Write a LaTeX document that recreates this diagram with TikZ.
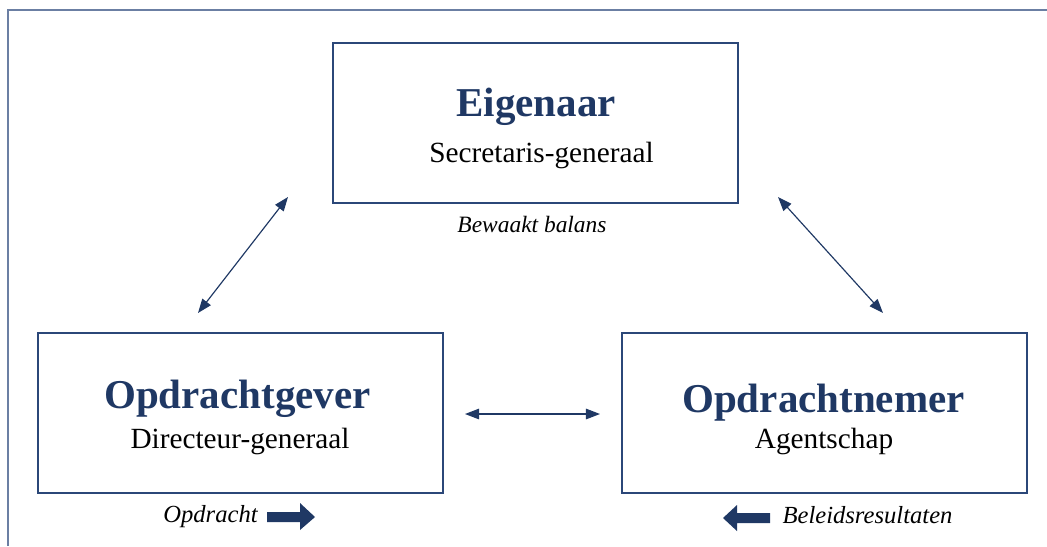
\documentclass[tikz,border=0pt]{standalone}
\usepackage{fontspec}
\setmainfont{Liberation Serif}
\usetikzlibrary{arrows.meta}
\definecolor{navy}{HTML}{1F3864}
\definecolor{boxblue}{HTML}{2B4778}
\definecolor{framegray}{HTML}{6B7FA3}
\tikzset{
  box/.style={draw=boxblue, line width=1.9pt, minimum width=12.15cm, minimum height=4.8cm, inner sep=0pt},
  title/.style={anchor=base, text=navy, font=\fontsize{35}{40}\selectfont\bfseries, inner sep=0pt},
  sub/.style={anchor=base, text=black, font=\fontsize{25}{30}\selectfont, inner sep=0pt},
  note/.style={anchor=base, text=black, font=\fontsize{21}{25}\selectfont\itshape, inner sep=0pt},
  link/.style={draw=navy, line width=1pt, {Triangle[length=12pt,width=9pt]}-{Triangle[length=12pt,width=9pt]}},
  blockarrow/.style={fill=navy, draw=none}
}
\begin{document}
\begin{tikzpicture}[x=0.03cm, y=-0.03cm]
\useasboundingbox (0,0) rectangle (1047,546);
% frame
\draw[framegray, line width=1.3pt] (8,546) -- (8,10) -- (1047,10);
% boxes
\node[box] (eig) at (535.5,123) {};
\node[box] (gev) at (240.5,413) {};
\node[box] (nem) at (824.5,413) {};
% texts
\node[title] (eigT) at (536,116) {Eigenaar};
\node[sub] (eigS) at (541.5,162) {Secretaris-generaal};
\node[note, font=\fontsize{20}{24}\selectfont\itshape] (bew) at (532,232) {Bewaakt balans};
\node[title] (gevT) at (237.5,408) {Opdrachtgever};
\node[sub] (gevS) at (240,448) {Directeur-generaal};
\node[title] (nemT) at (823.5,412) {Opdrachtnemer};
\node[sub] (nemS) at (824,448) {Agentschap};
\node[note] (opd) at (210.5,522) {Opdracht};
\node[note] (bel) at (867.5,523) {Beleidsresultaten};
% connectors
\coordinate (l1) at (288,197);
\coordinate (l2) at (198,313);
\coordinate (r1) at (778,197);
\coordinate (r2) at (883,313);
\coordinate (h1) at (465,414);
\coordinate (h2) at (600,414);
\draw[link] (l1) -- (l2);
\draw[link] (r1) -- (r2);
\draw[link] (h1) -- (h2);
% block arrows
\fill[blockarrow] (267,512) -- (300,512) -- (300,503) -- (315,517) -- (300,530) -- (300,522) -- (267,522) -- cycle;
\fill[blockarrow] (770,513) -- (737,513) -- (737,505) -- (723,518) -- (737,531) -- (737,523) -- (770,523) -- cycle;
\end{tikzpicture}
\end{document}
